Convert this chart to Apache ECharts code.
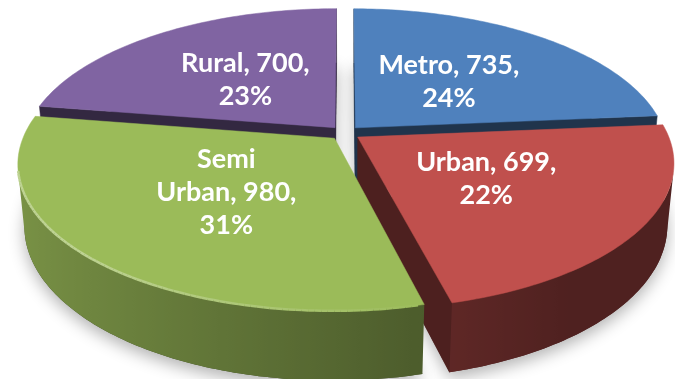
<!DOCTYPE html>
<html>
<head>
<meta charset="utf-8">
<script src="https://cdn.jsdelivr.net/npm/echarts@6/dist/echarts.min.js"></script>
<style>
  html, body { margin: 0; padding: 0; background: #ffffff; }
  #chart { width: 675px; height: 379px; }
</style>
</head>
<body>
<div id="chart"></div>
<script>
// Slices, clockwise from 12 o'clock
const categories = ['Metro', 'Urban', 'Semi Urban', 'Rural'];
const values = [735, 699, 980, 700];
const percentLabels = [24, 22, 31, 23];
const colors = ['#4f81bd', '#c0504d', '#9bbb59', '#8064a2'];

// Camera / disc geometry for the tilted, exploded 3D pie (unit-radius disc)
const VIEW = {
  cx: 345, cy: 133,      // screen position of the disc centre
  focal: 1610,           // perspective focal length
  dist: 5.2,             // camera distance from the disc centre (in radii)
  tilt: 27.1,            // camera elevation (deg)
  thick: 0.226,          // disc thickness (in radii)
  explode: 0.05,         // slice offset along its bisector (in radii)
  labelR: 0.48           // label anchor along bisector (in radii)
};
const SIN_T = Math.sin(VIEW.tilt * Math.PI / 180);
const COS_T = Math.cos(VIEW.tilt * Math.PI / 180);
const CAM = [0, -VIEW.dist * COS_T, VIEW.dist * SIN_T];

function project(X, Y, H) {
  const z = VIEW.dist + Y * COS_T - H * SIN_T;
  const yc = Y * SIN_T + H * COS_T;
  return [VIEW.cx + VIEW.focal * X / z, VIEW.cy - VIEW.focal * yc / z];
}

function hexRgb(hex) {
  const n = parseInt(hex.slice(1), 16);
  return [(n >> 16) & 255, (n >> 8) & 255, n & 255];
}
function shade(hex, f) {
  const c = hexRgb(hex).map(v => Math.max(0, Math.min(255, Math.round(v * f))));
  return 'rgb(' + c.join(',') + ')';
}
function tint(hex, t) {
  const c = hexRgb(hex).map(v => Math.round(v + (255 - v) * t));
  return 'rgb(' + c.join(',') + ')';
}
const clamp = (v, a, b) => Math.max(a, Math.min(b, v));
const total = values.reduce((a, b) => a + b, 0);
const wallLight = t => clamp(0.55 - 0.24 * Math.cos(t), 0.41, 0.8);

function faces(normal, point) {
  return normal[0] * (CAM[0] - point[0]) + normal[1] * (CAM[1] - point[1]) + normal[2] * (CAM[2] - point[2]) > 0;
}

function renderSlice(params, api) {
  const i = params.dataIndex;
  const v = api.value(0);
  let before = 0;
  for (let k = 0; k < i; k++) before += values[k];
  const a0 = 90 - 360 * before / total;
  const a1 = a0 - 360 * v / total;
  const rad = d => d * Math.PI / 180;
  const mid = rad((a0 + a1) / 2);
  const ox = VIEW.explode * Math.cos(mid);
  const oy = VIEW.explode * Math.sin(mid);
  const h = VIEW.thick;
  const col = colors[i];
  const base = Math.round((1 - Math.sin(mid)) * 100) * 10;

  const steps = Math.max(4, Math.ceil(Math.abs(a1 - a0)));
  const angles = [];
  for (let k = 0; k <= steps; k++) angles.push(rad(a0 + (a1 - a0) * k / steps));
  const rim = (t, H) => project(ox + Math.cos(t), oy + Math.sin(t), H);

  const children = [];

  // soft drop shadow under the slice
  const bottom = [project(ox, oy, -h)].concat(angles.map(t => rim(t, -h)));
  children.push({
    type: 'polygon', shape: { points: bottom }, z2: 1,
    style: { fill: shade(col, 0.4), shadowBlur: 16, shadowColor: 'rgba(0,0,0,0.3)', shadowOffsetY: 6 }
  });

  // radial cut faces
  [[a0, 1], [a1, -1]].forEach(([deg, sgn]) => {
    const t = rad(deg);
    const n = sgn > 0 ? [-Math.sin(t), Math.cos(t), 0] : [Math.sin(t), -Math.cos(t), 0];
    const c = [ox + 0.5 * Math.cos(t), oy + 0.5 * Math.sin(t), -h / 2];
    if (!faces(n, c)) return;
    const pts = [project(ox, oy, 0), rim(t, 0), rim(t, -h), project(ox, oy, -h)];
    children.push({
      type: 'polygon', shape: { points: pts }, z2: base + 2,
      style: { fill: shade(col, 0.4), stroke: shade(col, 0.4), lineWidth: 0.5 }
    });
  });

  // curved outer wall: collect runs of camera-facing segments
  const runs = [];
  let cur = null;
  for (let k = 0; k < steps; k++) {
    const tm = (angles[k] + angles[k + 1]) / 2;
    const vis = faces([Math.cos(tm), Math.sin(tm), 0], [ox + Math.cos(tm), oy + Math.sin(tm), -h / 2]);
    if (vis) {
      if (!cur) { cur = [angles[k]]; runs.push(cur); }
      cur.push(angles[k + 1]);
    } else {
      cur = null;
    }
  }
  runs.forEach(run => {
    const topPts = run.map(t => rim(t, 0));
    const botPts = run.map(t => rim(t, -h));
    const xs = topPts.map(p => p[0]).concat(botPts.map(p => p[0]));
    const xMin = Math.min.apply(null, xs), xMax = Math.max.apply(null, xs);
    const stops = run.map((t, k) => ({
      offset: clamp((topPts[k][0] - xMin) / Math.max(1, xMax - xMin), 0, 1),
      color: shade(col, wallLight(t))
    })).sort((a, b) => a.offset - b.offset);
    children.push({
      type: 'polygon', shape: { points: topPts.concat(botPts.slice().reverse()) }, z2: base + 3,
      style: {
        fill: { type: 'linear', x: xMin, y: 0, x2: xMax, y2: 0, global: true, colorStops: stops },
        stroke: null
      }
    });
    // bevel highlight along the lit rim
    for (let k = 0; k + 1 < run.length; k++) {
      const tm = (run[k] + run[k + 1]) / 2;
      const hl = clamp(0.1 - 0.35 * Math.cos(tm), 0, 0.35);
      if (hl <= 0.02) continue;
      children.push({
        type: 'line',
        shape: { x1: topPts[k][0], y1: topPts[k][1], x2: topPts[k + 1][0], y2: topPts[k + 1][1] },
        z2: base + 6, style: { stroke: tint(col, hl), lineWidth: 2.5 }
      });
    }
  });

  // top face
  const top = [project(ox, oy, 0)].concat(angles.map(t => rim(t, 0)));
  children.push({
    type: 'polygon', shape: { points: top }, z2: base + 5,
    style: { fill: col, stroke: col, lineWidth: 0.5 }
  });

  // data label
  const lp = project(ox + VIEW.labelR * Math.cos(mid), oy + VIEW.labelR * Math.sin(mid), 0);
  children.push({
    type: 'text', x: lp[0], y: lp[1], z2: 9000,
    style: {
      text: categories[i].replace(' ', '\n') + ', ' + v + ',\n' + percentLabels[i] + '%',
      fill: '#ffffff', fontFamily: 'Lato', fontWeight: 'bold', fontSize: 27,
      lineHeight: 33, align: 'center', verticalAlign: 'middle'
    }
  });

  return { type: 'group', children: children };
}

const chart = echarts.init(document.getElementById('chart'), null, { renderer: 'canvas' });
chart.setOption({
  backgroundColor: '#ffffff',
  animation: false,
  series: [{
    type: 'custom',
    coordinateSystem: 'none',
    renderItem: renderSlice,
    data: values.map((v, i) => ({ name: categories[i], value: [v] }))
  }]
});
</script>
</body>
</html>
